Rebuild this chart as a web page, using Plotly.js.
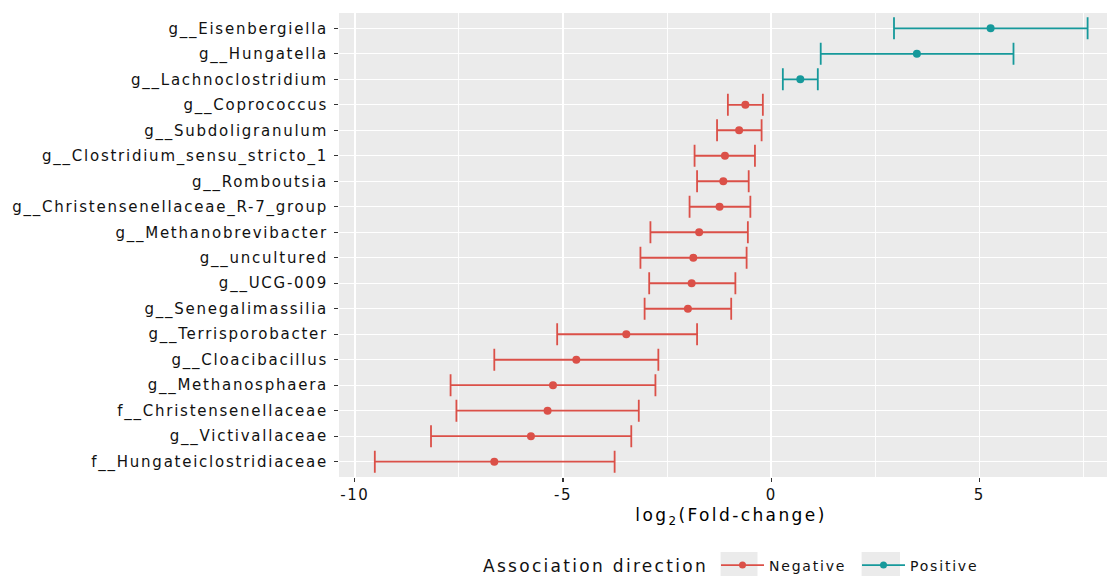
<!DOCTYPE html>
<html>
<head>
<meta charset="utf-8">
<script src="https://cdn.plot.ly/plotly-3.0.1.min.js"></script>
<style>
  html, body { margin: 0; padding: 0; overflow: hidden; background: #fff; }
  #chart { width: 1130px; height: 576px; }
  .ytick text { letter-spacing: 1.75px; }
  .xtick text { letter-spacing: 1.5px; }
  text.xtitle { letter-spacing: 2.4px; }
  text.legendtext { letter-spacing: 1.8px; }
  text.legendtitletext { letter-spacing: 2.3px; }
</style>
</head>
<body>
<div id="chart"></div>
<script>
// ---- data (top to bottom as drawn) ----
const taxa = [
  'g__Eisenbergiella', 'g__Hungatella', 'g__Lachnoclostridium', 'g__Coprococcus',
  'g__Subdoligranulum', 'g__Clostridium_sensu_stricto_1', 'g__Romboutsia',
  'g__Christensenellaceae_R-7_group', 'g__Methanobrevibacter', 'g__uncultured',
  'g__UCG-009', 'g__Senegalimassilia', 'g__Terrisporobacter', 'g__Cloacibacillus',
  'g__Methanosphaera', 'f__Christensenellaceae', 'g__Victivallaceae',
  'f__Hungateiclostridiaceae'
];
const logFC  = [5.27, 3.50, 0.70, -0.62, -0.77, -1.11, -1.15, -1.24, -1.73, -1.87, -1.91, -2.00, -3.48, -4.68, -5.24, -5.37, -5.77, -6.65];
const ciLow  = [2.95, 1.19, 0.28, -1.04, -1.30, -1.84, -1.78, -1.96, -2.90, -3.14, -2.93, -3.04, -5.14, -6.65, -7.70, -7.56, -8.17, -9.52];
const ciHigh = [7.60, 5.82, 1.12, -0.20, -0.23, -0.39, -0.54, -0.50, -0.56, -0.59, -0.86, -0.96, -1.78, -2.71, -2.78, -3.18, -3.36, -3.76];
const direction = ['Positive', 'Positive', 'Positive', 'Negative', 'Negative', 'Negative', 'Negative', 'Negative', 'Negative',
  'Negative', 'Negative', 'Negative', 'Negative', 'Negative', 'Negative', 'Negative', 'Negative', 'Negative'];
const groups = ['Negative', 'Positive'];
const groupColors = { Negative: '#DB5048', Positive: '#16999B' };
const xTickVals = [-10, -5, 0, 5];
const xTickText = ['-10', '-5', '0', '5'];

const FONT = 'DejaVu Sans, Liberation Sans, Arial, sans-serif';

const traces = [];
groups.forEach(g => {
  const idx = taxa.map((_, i) => i).filter(i => direction[i] === g);
  traces.push({
    type: 'scatter', mode: 'markers', name: g, showlegend: false,
    x: idx.map(i => logFC[i]),
    y: idx.map(i => taxa[i]),
    marker: { color: groupColors[g], size: 8 },
    error_x: {
      type: 'data', symmetric: false,
      array: idx.map(i => ciHigh[i] - logFC[i]),
      arrayminus: idx.map(i => logFC[i] - ciLow[i]),
      color: groupColors[g], thickness: 1.8, width: 11
    },
    hoverinfo: 'x+y'
  });
});
// legend keys (line + point), no data of their own
groups.forEach(g => {
  traces.push({
    type: 'scatter', mode: 'lines+markers', name: g, showlegend: true,
    x: [null], y: [null],
    line: { color: groupColors[g], width: 1.8 },
    marker: { color: groupColors[g], size: 7 }
  });
});

const W = 1130, H = 576, L = 339, R = 7, T = 13, B = 99;
const pw = W - L - R, ph = H - T - B;
const px = v => (v - L) / pw;         // page px -> paper x
const py = v => (H - B - v) / ph;     // page px -> paper y

const layout = {
  width: W, height: H,
  margin: { l: L, r: R, t: T, b: B, pad: 0 },
  paper_bgcolor: '#ffffff',
  plot_bgcolor: '#EBEBEB',
  font: { family: FONT, color: '#111' },
  showlegend: true,
  xaxis: {
    range: [-10.38, 8.45],
    tickmode: 'array', tickvals: xTickVals, ticktext: xTickText,
    showgrid: true, gridcolor: '#ffffff', gridwidth: 1.7,
    minor: { dtick: 2.5, tick0: 0, showgrid: true, gridcolor: '#ffffff', gridwidth: 0.9, ticks: '' },
    zeroline: false, showline: false,
    ticks: 'outside', ticklen: 4, tickwidth: 1.3, tickcolor: '#333',
    tickfont: { family: FONT, size: 15, color: '#111' },
    title: { text: 'log<sub>2</sub>(Fold-change)', font: { family: FONT, size: 17, color: '#000' }, standoff: 6 },
    fixedrange: true
  },
  yaxis: {
    type: 'category', categoryorder: 'array', categoryarray: taxa,
    range: [17.6, -0.6],
    showgrid: true, gridcolor: '#ffffff', gridwidth: 1.4,
    zeroline: false, showline: false,
    ticks: 'outside', ticklen: 4, tickwidth: 1.3, tickcolor: '#333',
    ticklabelstandoff: 3,
    tickfont: { family: FONT, size: 15, color: '#111' },
    fixedrange: true
  },
  legend: {
    orientation: 'h',
    xref: 'container', yref: 'container',
    x: 481 / W, y: (H - 566) / H, xanchor: 'left', yanchor: 'middle',
    title: { text: 'Association direction', side: 'left', font: { family: FONT, size: 17, color: '#111' } },
    font: { family: FONT, size: 14, color: '#111' },
    itemwidth: 43, entrywidth: 83,
    bgcolor: 'rgba(0,0,0,0)', borderwidth: 0,
    itemclick: false, itemdoubleclick: false
  },
  shapes: [
    { type: 'rect', xref: 'paper', yref: 'paper', layer: 'below',
      x0: px(720.6), x1: px(757.5), y0: py(552), y1: py(581),
      fillcolor: '#EBEBEB', line: { width: 0 } },
    { type: 'rect', xref: 'paper', yref: 'paper', layer: 'below',
      x0: px(861.6), x1: px(900), y0: py(552), y1: py(581),
      fillcolor: '#EBEBEB', line: { width: 0 } }
  ]
};

Plotly.newPlot('chart', traces, layout, { displayModeBar: false, staticPlot: true });
</script>
</body>
</html>
